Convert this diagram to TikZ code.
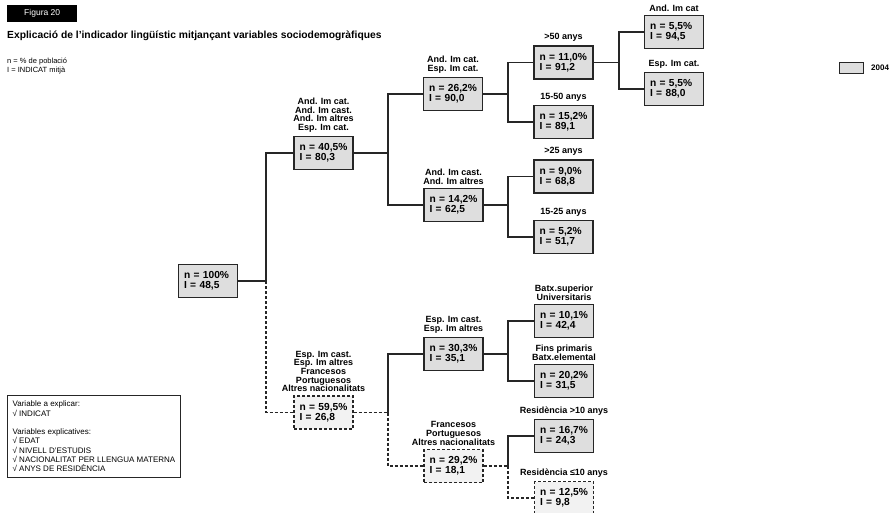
\documentclass[tikz,border=0pt]{standalone}
\usepackage{fontspec}
\setmainfont{Liberation Sans}
\definecolor{boxgray}{HTML}{DEDEDE}
\definecolor{boxlight}{HTML}{F2F2F2}
\definecolor{linec}{HTML}{262626}
\begin{document}
\begin{tikzpicture}[x=1pt,y=-1pt,
  box/.style={draw=linec, line width=1.1pt, fill=boxgray, text width=48pt, inner xsep=5.5pt, inner ysep=0pt, minimum height=33pt, align=left, font=\fontsize{10.2}{9.6}\selectfont\bfseries},
  dbox/.style={box, dash pattern=on 3pt off 2pt, fill=boxlight},
  lab/.style={anchor=south, inner sep=0pt, yshift=3.5pt, align=center, font=\fontsize{9}{8.6}\selectfont\bfseries},
  link/.style={draw=linec, line width=1.1pt},
  dlink/.style={link, dash pattern=on 3pt off 2pt},
]
\useasboundingbox (0,0) rectangle (894,513);

% header
\node[fill=black, text=white, minimum width=70pt, minimum height=17pt, inner sep=0pt, anchor=north west, font=\fontsize{8.5}{9}\selectfont] (fig) at (7,5) {Figura 20};
\node[anchor=west, inner sep=0pt, font=\fontsize{10.3}{11}\selectfont\bfseries] (title) at (7,36) {Explicació de l’indicador lingüístic mitjançant variables sociodemogràfiques};
\node[anchor=north west, inner sep=0pt, align=left, font=\fontsize{7.5}{9}\selectfont] (notes) at (7,57.5) {n = \% de població\\I = INDICAT mitjà};

% legend
\node[draw=linec, line width=1pt, fill=boxgray, minimum width=24pt, minimum height=11pt, inner sep=0pt, anchor=north west] (leg) at (839,62) {};
\node[anchor=west, inner sep=0pt, xshift=7pt, font=\fontsize{8}{9}\selectfont\bfseries] (legt) at (leg.east) {2004};

% variables box
\node[draw=linec, line width=0.9pt, anchor=north west, minimum width=173pt, minimum height=82pt, inner xsep=4.5pt, inner ysep=4pt, align=left, font=\fontsize{8}{9.3}\selectfont] (vars) at (7,395) {Variable a explicar:\\√ INDICAT\\[9.3pt]Variables explicatives:\\√ EDAT\\√ NIVELL D’ESTUDIS\\√ NACIONALITAT PER LLENGUA MATERNA\\√ ANYS DE RESIDÈNCIA};

% tree nodes
\node[box] (root) at (208,281) {n = 100\%\\I = 48,5};
\node[box] (A) at (323.5,153) {n = 40,5\%\\I = 80,3};
\node[box] (B) at (453,94) {n = 26,2\%\\I = 90,0};
\node[box] (C) at (563.5,62.5) {n = 11,0\%\\I = 91,2};
\node[box] (D) at (563.5,122) {n = 15,2\%\\I = 89,1};
\node[box] (E) at (674,32) {n = 5,5\%\\I = 94,5};
\node[box] (F) at (674,89) {n = 5,5\%\\I = 88,0};
\node[box] (G) at (453.5,205) {n = 14,2\%\\I = 62,5};
\node[box] (H) at (563.5,176.5) {n = 9,0\%\\I = 68,8};
\node[box] (I) at (563.5,237) {n = 5,2\%\\I = 51,7};
\node[dbox] (J) at (323.5,412.5) {n = 59,5\%\\I = 26,8};
\node[box] (K) at (453.5,354) {n = 30,3\%\\I = 35,1};
\node[box] (L) at (564,321) {n = 10,1\%\\I = 42,4};
\node[box] (M) at (564,381) {n = 20,2\%\\I = 31,5};
\node[dbox] (N) at (453.5,466) {n = 29,2\%\\I = 18,1};
\node[box] (O) at (564,436) {n = 16,7\%\\I = 24,3};
\node[dbox] (P) at (564,498) {n = 12,5\%\\I = 9,8};

% labels
\node[lab] (Al) at (A.north) {And. Im cat.\\And. Im cast.\\And. Im altres\\Esp. Im cat.};
\node[lab] (Bl) at (B.north) {And. Im cat.\\Esp. Im cat.};
\node[lab] (Cl) at (C.north) {>50 anys};
\node[lab] (Dl) at (D.north) {15-50 anys};
\node[lab] (El) at (E.north) {And. Im cat};
\node[lab] (Fl) at (F.north) {Esp. Im cat.};
\node[lab] (Gl) at (G.north) {And. Im cast.\\And. Im altres};
\node[lab] (Hl) at (H.north) {>25 anys};
\node[lab] (Il) at (I.north) {15-25 anys};
\node[lab] (Jl) at (J.north) {Esp. Im cast.\\Esp. Im altres\\Francesos\\Portuguesos\\Altres nacionalitats};
\node[lab] (Kl) at (K.north) {Esp. Im cast.\\Esp. Im altres};
\node[lab] (Ll) at (L.north) {Batx.superior\\Universitaris};
\node[lab] (Ml) at (M.north) {Fins primaris\\Batx.elemental};
\node[lab] (Nl) at (N.north) {Francesos\\Portuguesos\\Altres nacionalitats};
\node[lab] (Ol) at (O.north) {Residència >10 anys};
\node[lab] (Pl) at (P.north) {Residència ≤10 anys};

% junctions
\coordinate (j1) at (266,281);
\coordinate (j2) at (388,153);
\coordinate (j3) at (508,94);
\coordinate (j4) at (619,62.5);
\coordinate (j5) at (508,205);
\coordinate (j6) at (388,412.5);
\coordinate (j7) at (508,354);
\coordinate (j8) at (508,466);

% connectors
\draw[link] (root.east) -- (j1) |- (A.west);
\draw[dlink] (j1) |- (J.west);
\draw[link] (A.east) -- (j2) |- (B.west);
\draw[link] (j2) |- (G.west);
\draw[link] (B.east) -- (j3) |- (C.west);
\draw[link] (j3) |- (D.west);
\draw[link] (C.east) -- (j4) |- (E.west);
\draw[link] (j4) |- (F.west);
\draw[link] (G.east) -- (j5) |- (H.west);
\draw[link] (j5) |- (I.west);
\draw[dlink] (J.east) -- (j6);
\draw[link] (j6) |- (K.west);
\draw[dlink] (j6) |- (N.west);
\draw[link] (K.east) -- (j7) |- (L.west);
\draw[link] (j7) |- (M.west);
\draw[dlink] (N.east) -- (j8);
\draw[link] (j8) |- (O.west);
\draw[dlink] (j8) |- (P.west);
\end{tikzpicture}
\end{document}
